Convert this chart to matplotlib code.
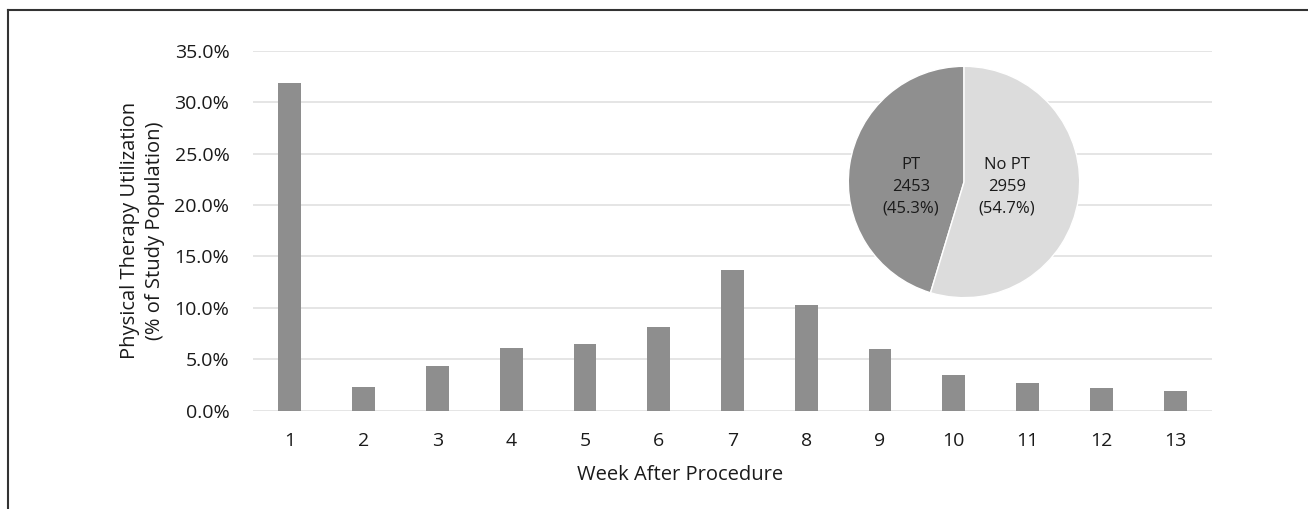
import matplotlib
matplotlib.use("Agg")
import matplotlib.pyplot as plt
from matplotlib.lines import Line2D
from matplotlib.ticker import FuncFormatter

weeks = ["1", "2", "3", "4", "5", "6", "7", "8", "9", "10", "11", "12", "13"]
pt_util = [31.9, 2.3, 4.3, 6.1, 6.5, 8.1, 13.7, 10.3, 6.0, 3.5, 2.7, 2.2, 1.9]

pie_labels = ["PT", "No PT"]
pie_counts = [2453, 2959]
pie_pcts = [45.3, 54.7]

plt.rcParams['font.family'] = ['Open Sans', 'DejaVu Sans']

fig = plt.figure(figsize=(13.08, 5.09), dpi=100)
fig.patch.set_facecolor("white")

ax = fig.add_axes([253/1308, 1-410.7/509, (1212-253)/1308, 360/509])
x = list(range(1, len(weeks)+1))
ax.bar(x, pt_util, width=0.31, color="#8e8e8e", zorder=3)
ax.set_xlim(0.5, len(weeks)+0.5)
ax.set_ylim(0, 35)
ax.set_yticks([0, 5, 10, 15, 20, 25, 30, 35])
ax.yaxis.set_major_formatter(FuncFormatter(lambda v, p: f"{v:.1f}%"))
ax.set_xticks(x)
ax.set_xticklabels(weeks)
ax.grid(axis="y", color="#e0e0e0", linewidth=1.2, zorder=0)
for s in ax.spines.values():
    s.set_visible(False)
ax.tick_params(axis="both", length=0, labelsize=14, colors="#1a1a1a")
ax.tick_params(axis="y", pad=17)
ax.tick_params(axis="x", pad=15)
ax.set_xlabel("Week After Procedure", fontsize=14.5, color="#1a1a1a")
ax.xaxis.set_label_coords((680-253)/959, -0.15)
ax.set_ylabel("Physical Therapy Utilization\n(% of Study Population)", fontsize=14.5,
              color="#1a1a1a", labelpad=7, linespacing=1.3)

# pie inset
pax = fig.add_axes([(964-118)/1308, 1-300/509, 236/1308, 236/509])
pax.pie(pie_counts, colors=["#8f8f8f", "#dcdcdc"], startangle=90, counterclock=True,
        wedgeprops=dict(edgecolor="white", linewidth=1.0))
pax.set_xlim(-1.02, 1.02)
pax.set_ylim(-1.02, 1.02)
pax.set_aspect("equal")
pax.axis("off")
pos = [(-0.46, 0.0), (0.37, 0.0)]
for (px, py), lab, c, p in zip(pos, pie_labels, pie_counts, pie_pcts):
    pax.text(px, py - 0.04, f"{lab}\n{c}\n({p}%)", ha="center", va="center",
             fontsize=12, color="#1a1a1a", linespacing=1.45)

# outer frame (top and left edges only)
fig.add_artist(Line2D([8/1308, 1.0], [1-10/509, 1-10/509], transform=fig.transFigure,
                      color="#333333", linewidth=1.5))
fig.add_artist(Line2D([8/1308, 8/1308], [0.0, 1-10/509], transform=fig.transFigure,
                      color="#333333", linewidth=1.5))

fig.savefig("out.png", dpi=100, facecolor="white")
